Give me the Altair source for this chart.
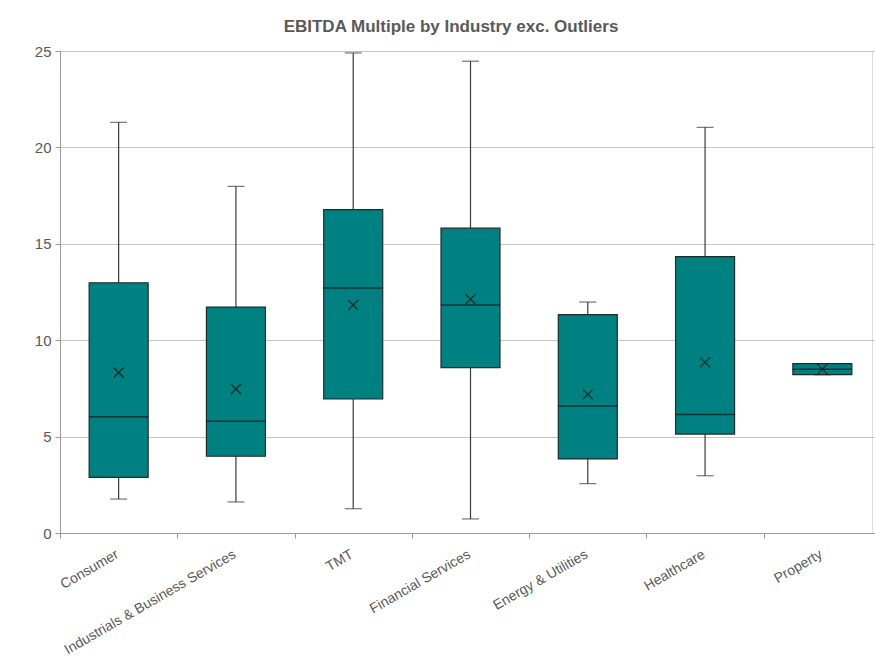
import altair as alt
import pandas as pd

categories = ["Consumer", "Industrials & Business Services", "TMT", "Financial Services",
              "Energy & Utilities", "Healthcare", "Property"]
low = [1.76, 1.61, 1.26, 0.73, 2.56, 2.97, 8.21]
q1 = [2.88, 3.98, 6.95, 8.58, 3.84, 5.13, 8.21]
median = [6.03, 5.79, 12.71, 11.83, 6.59, 6.14, 8.49]
q3 = [12.98, 11.72, 16.77, 15.81, 11.33, 14.33, 8.78]
high = [21.3, 17.98, 24.9, 24.47, 11.98, 21.04, 8.78]
mean = [8.33, 7.47, 11.83, 12.12, 7.19, 8.85, 8.5]

df = pd.DataFrame({"cat": categories, "low": low, "q1": q1, "median": median,
                   "q3": q3, "high": high, "mean": mean})

FONT = "Liberation Sans"
GRAY = "#595959"

xenc = alt.X("cat:N", sort=categories, title=None,
             scale=alt.Scale(range=[0, 821], paddingInner=0, paddingOuter=0),
             axis=alt.Axis(labelAngle=-30, labelAlign="right", labelBaseline="top",
                           labelFontSize=14, labelColor=GRAY, labelFont=FONT, labelLimit=0,
                           labelOffset=-5,
                           tickBand="extent", tickColor="#9a9a9a", tickSize=5,
                           domainColor="#9a9a9a", labelPadding=9, grid=False))

yscale = alt.Scale(domain=[0, 25], nice=False)
yaxis = alt.Axis(values=[0, 5, 10, 15, 20, 25], labelFontSize=15, labelColor=GRAY,
                 labelFont=FONT, gridColor="#c4c4c4", gridWidth=1.2, domainColor="#9a9a9a",
                 tickColor="#9a9a9a", tickSize=5, labelPadding=4, title=None)

base = alt.Chart(df)

whisker = base.mark_rule(color="#3a3a3a", strokeWidth=1.2).encode(
    x=xenc, y=alt.Y("low:Q", scale=yscale, axis=yaxis), y2="high:Q")

caps_low = base.mark_tick(color="#3a3a3a", size=17, thickness=1.2, orient="horizontal").encode(
    x=alt.X("cat:N", sort=categories), y="low:Q")
caps_high = base.mark_tick(color="#3a3a3a", size=17, thickness=1.2, orient="horizontal").encode(
    x=alt.X("cat:N", sort=categories), y="high:Q")

box = base.mark_bar(color="#008080", stroke="#1f2a2a", strokeWidth=1.2, size=59).encode(
    x=alt.X("cat:N", sort=categories), y="q1:Q", y2="q3:Q")

med = base.mark_tick(color="#111111", size=59, thickness=1.5, orient="horizontal").encode(
    x=alt.X("cat:N", sort=categories), y="median:Q")

meanpt = base.mark_point(shape="M-1,-1L1,1M-1,1L1,-1", size=100, filled=False,
                         color="#111111", strokeWidth=1.4).encode(
    x=alt.X("cat:N", sort=categories), y="mean:Q")

chart = alt.layer(whisker, caps_low, caps_high, box, med, meanpt).properties(
    width=812, height=482,
    title=alt.TitleParams("EBITDA Multiple by Industry exc. Outliers", fontSize=17,
                          fontWeight="bold", color=GRAY, font=FONT, anchor="middle",
                          dx=-15, offset=8),
    autosize=alt.AutoSizeParams(type="none"),
    padding={"left": 60, "top": 51, "right": 3, "bottom": 136},
).configure_view(stroke=None).configure(background="white")

chart.save("out.html", embed_options={"renderer": "svg", "actions": False})
